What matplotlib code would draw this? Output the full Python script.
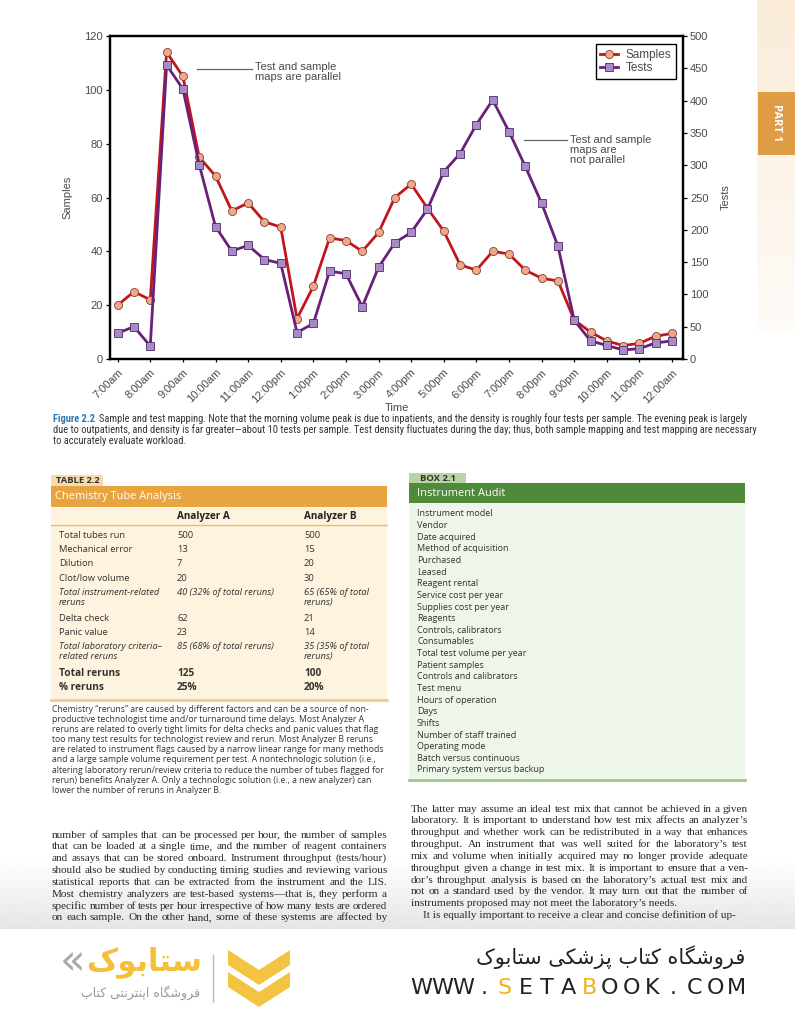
import matplotlib
matplotlib.use('Agg')
import matplotlib.pyplot as plt
from matplotlib import font_manager
from matplotlib.patches import Rectangle, Polygon
from matplotlib.lines import Line2D
import numpy as np

# ---- chart data: half-hour readings, 7:00am .. 12:00am ----
hour_labels = ['7:00am', '8:00am', '9:00am', '10:00am', '11:00am', '12:00pm',
               '1:00pm', '2:00pm', '3:00pm', '4:00pm', '5:00pm', '6:00pm',
               '7:00pm', '8:00pm', '9:00pm', '10:00pm', '11:00pm', '12:00am']
samples = [20, 25, 22, 114, 105, 75, 68, 55, 58, 51, 49, 15, 27, 45, 44, 40, 47, 60,
           65, 56, 47.5, 35, 33, 40, 39, 33, 30, 29, 14.5, 10, 6.7, 5, 5.8, 8.5, 9.5]
tests = [40, 50, 20, 455, 418, 301, 205, 167, 176, 154, 148, 41, 55, 136, 132, 81, 142, 180,
         196, 232, 290, 318, 363, 401, 352, 298, 241, 175, 60, 28, 21, 14, 16, 25, 28]

# ---- table 2.2 ----
table_cols = ['Analyzer A', 'Analyzer B']
table_rows = ['Total tubes run', 'Mechanical error', 'Dilution', 'Clot/low volume',
              'Total instrument-related\nreruns', 'Delta check', 'Panic value',
              'Total laboratory criteria\u2013\nrelated reruns', 'Total reruns', '% reruns']
analyzer_a = ['500', '13', '7', '20', '40 (32% of total reruns)', '62', '23',
              '85 (68% of total reruns)', '125', '25%']
analyzer_b = ['500', '15', '20', '30', '65 (65% of total\nreruns)', '21', '14',
              '35 (35% of total\nreruns)', '100', '20%']
row_kind = ['n', 'n', 'n', 'n', 'i', 'n', 'n', 'i', 'b', 'b']

table_note = [
    'Chemistry \u201creruns\u201d are caused by different factors and can be a source of non-',
    'productive technologist time and/or turnaround time delays. Most Analyzer A',
    'reruns are related to overly tight limits for delta checks and panic values that flag',
    'too many test results for technologist review and rerun. Most Analyzer B reruns',
    'are related to instrument flags caused by a narrow linear range for many methods',
    'and a large sample volume requirement per test. A nontechnologic solution (i.e.,',
    'altering laboratory rerun/review criteria to reduce the number of tubes flagged for',
    'rerun) benefits Analyzer A. Only a technologic solution (i.e., a new analyzer) can',
    'lower the number of reruns in Analyzer B.']

# ---- box 2.1 ----
audit_items = ['Instrument model', 'Vendor', 'Date acquired', 'Method of acquisition',
               'Purchased', 'Leased', 'Reagent rental', 'Service cost per year',
               'Supplies cost per year', 'Reagents', 'Controls, calibrators', 'Consumables',
               'Total test volume per year', 'Patient samples', 'Controls and calibrators',
               'Test menu', 'Hours of operation', 'Days', 'Shifts', 'Number of staff trained',
               'Operating mode', 'Batch versus continuous', 'Primary system versus backup']

caption = ['Sample and test mapping. Note that the morning volume peak is due to inpatients, and the density is roughly four tests per sample. The evening peak is largely',
           'due to outpatients, and density is far greater\u2014about 10 tests per sample. Test density fluctuates during the day; thus, both sample mapping and test mapping are necessary',
           'to accurately evaluate workload.']

body_left = [
    'number of samples that can be processed per hour, the number of samples',
    'that can be loaded at a single time, and the number of reagent containers',
    'and assays that can be stored onboard. Instrument throughput (tests/hour)',
    'should also be studied by conducting timing studies and reviewing various',
    'statistical reports that can be extracted from the instrument and the LIS.',
    'Most chemistry analyzers are test-based systems\u2014that is, they perform a',
    'specific number of tests per hour irrespective of how many tests are ordered',
    'on each sample. On the other hand, some of these systems are affected by']
body_right = [
    'The latter may assume an ideal test mix that cannot be achieved in a given',
    'laboratory. It is important to understand how test mix affects an analyzer\u2019s',
    'throughput and whether work can be redistributed in a way that enhances',
    'throughput. An instrument that was well suited for the laboratory\u2019s test',
    'mix and volume when initially acquired may no longer provide adequate',
    'throughput given a change in test mix. It is important to ensure that a ven-',
    'dor\u2019s throughput analysis is based on the laboratory\u2019s actual test mix and',
    'not on a standard used by the vendor. It may turn out that the number of',
    'instruments proposed may not meet the laboratory\u2019s needs.',
    'It is equally important to receive a clear and concise definition of up-']

shop_name = 'فروشگاه کتاب پزشکی ستابوک'
shop_tag = 'فروشگاه اینترنتی کتاب'
shop_logo = 'ستابوک'
site = 'WWW.SETABOOK.COM'

# ---------------------------------------------------------------
W, H = 795, 1010
fig = plt.figure(figsize=(W / 100, H / 100), dpi=100)
renderer = fig.canvas.get_renderer()

installed = {f.name for f in font_manager.fontManager.ttflist}


def pick(*names):
    for n in names:
        if n in installed:
            return n
    return 'DejaVu Sans'


narrow = pick('Liberation Sans Narrow', 'Roboto Condensed', 'Liberation Sans')
chart_font = pick('Liberation Sans', 'DejaVu Sans')
box_font = pick('Open Sans', 'Lato', 'DejaVu Sans')
serif = pick('Liberation Serif', 'DejaVu Serif')


def fx(px):
    return px / W


def fy(py):
    return 1 - py / H


def put(x, y, s, **kw):
    kw.setdefault('va', 'center')
    return fig.text(fx(x), fy(y), s, **kw)


def rect(x0, y0, x1, y1, color, z=1):
    fig.add_artist(Rectangle((fx(x0), fy(y1)), (x1 - x0) / W, (y1 - y0) / H,
                             transform=fig.transFigure, facecolor=color,
                             edgecolor='none', zorder=z))


def hline(x0, x1, y, color, lw, z=2):
    fig.add_artist(Line2D([fx(x0), fx(x1)], [fy(y), fy(y)], transform=fig.transFigure,
                          color=color, lw=lw, zorder=z))


def width_of(s, size, family, **kw):
    t = fig.text(0, 0, s, fontsize=size, family=family, **kw)
    w = t.get_window_extent(renderer).width
    t.remove()
    return w


def fit(s, target, family, **kw):
    return 10 * target / width_of(s, 10, family, **kw)


def gradient(x0, y0, x1, y1, rgb, a_top, a_bottom, z):
    g = fig.add_axes([fx(x0), fy(y1), (x1 - x0) / W, (y1 - y0) / H], zorder=z)
    img = np.zeros((80, 2, 4))
    img[..., :3] = rgb
    img[..., 3] = np.linspace(a_top, a_bottom, 80)[:, None]
    g.imshow(img, aspect='auto', extent=(0, 1, 0, 1), interpolation='bilinear')
    g.axis('off')


# ---------------- chart ----------------
x = np.arange(len(samples))
ax = fig.add_axes([fx(110), fy(359), (683 - 110) / W, (359 - 36) / H], zorder=2)
ax.plot(x, samples, color='#C3161C', lw=2.0, marker='o', ms=5.8, mfc='#EDA98A',
        mec='#8A3A2A', mew=0.6, label='Samples')
ax.set_xlim(-0.47, len(samples) - 1 + 0.67)
ax.set_ylim(0, 120)
ax.set_yticks(range(0, 121, 20))
ax.set_xticks(x[::2])
ax.set_xticklabels(hour_labels, rotation=45, ha='right', rotation_mode='anchor')

ax2 = ax.twinx()
ax2.plot(x, tests, color='#6A1F78', lw=2.0, marker='s', ms=5.6, mfc='#A88BC6',
         mec='#4F2868', mew=0.6, label='Tests')
ax2.set_ylim(0, 500)
ax2.set_yticks(range(0, 501, 50))

for a in (ax, ax2):
    for sp in a.spines.values():
        sp.set_linewidth(1.6)
        sp.set_color('black')
    a.tick_params(length=3, width=0.9, labelsize=8, labelcolor='#4a4a4a', pad=2)
    for lab in a.get_xticklabels() + a.get_yticklabels():
        lab.set_family(chart_font)
ax.tick_params(axis='x', length=2, pad=4)

ax.set_ylabel('Samples', fontsize=8, color='#4a4a4a', family=chart_font)
ax.yaxis.set_label_coords(-0.065, 0.5)
ax2.set_ylabel('Tests', fontsize=8, color='#4a4a4a', family=chart_font)
ax2.yaxis.set_label_coords(1.066, 0.5)
ax.set_xlabel('Time', fontsize=8, color='#4a4a4a', family=chart_font)
ax.xaxis.set_label_coords(0.5, -0.137)

h1, l1 = ax.get_legend_handles_labels()
h2, l2 = ax2.get_legend_handles_labels()
leg = ax2.legend(h1 + h2, l1 + l2, loc='upper right', bbox_to_anchor=(0.988, 0.975),
                 borderaxespad=0, fancybox=False, framealpha=1, edgecolor='black',
                 prop={'family': chart_font, 'size': 8.5}, handlelength=1.45,
                 handletextpad=0.7, borderpad=0.4, labelspacing=0.12)
leg.get_frame().set_linewidth(1.0)
for t in leg.get_texts():
    t.set_color('#4a4a4a')

hline(197, 252, 69, '#666666', 0.9, z=5)
put(255, 72, 'Test and sample\nmaps are parallel', fontsize=8, color='#4a4a4a',
    family=chart_font, linespacing=1.05)
hline(524, 567, 139.5, '#666666', 0.9, z=5)
put(570, 150, 'Test and sample\nmaps are\nnot parallel', fontsize=8, color='#4a4a4a',
    family=chart_font, linespacing=1.05)

# ---------------- caption ----------------
cap_size = fit(caption[1], 697, narrow)
put(53, 419, 'Figure 2.2', fontsize=cap_size, color='#2A78B4', family=narrow, weight='bold')
lab_w = width_of('Figure 2.2', cap_size, narrow, weight='bold')
for i, line in enumerate(caption):
    put(53 + (lab_w + 4 if i == 0 else 0), 419 + i * 11, line, fontsize=cap_size,
        color='#333333', family=narrow)

# ---------------- table 2.2 ----------------
rect(51, 475, 103, 486, '#F7DBAA')
rect(51, 486, 387, 507, '#E8A43E')
rect(51, 507, 387, 700, '#FEF3DE')
hline(51, 387, 525, '#E9BC74', 1.0)
hline(51, 387, 700, '#F2CC92', 2.0)
put(56, 480.5, 'TABLE 2.2', fontsize=fit('TABLE 2.2', 44, box_font, weight='bold'),
    family=box_font, weight='bold', color='#333333')
put(55, 496, 'Chemistry Tube Analysis', family=box_font, color='white',
    fontsize=fit('Chemistry Tube Analysis', 125, box_font))
hdr_size = fit(table_cols[0], 53, box_font, weight='bold')
for cx, col in zip((177, 304), table_cols):
    put(cx, 517, col, fontsize=hdr_size, family=box_font, weight='bold', color='#222222')
cell_size = fit('Mechanical error', 74, box_font)
style_of = {'n': dict(), 'i': dict(style='italic'), 'b': dict(weight='bold')}
yrow = 537
for name, va, vb, kind in zip(table_rows, analyzer_a, analyzer_b, row_kind):
    kw = dict(fontsize=cell_size, family=box_font, color='#333333', va='top',
              linespacing=1.22, **style_of[kind])
    if kind == 'b':
        kw['fontsize'] = cell_size * 1.08
    for cx, s in ((59, name), (177, va), (304, vb)):
        put(cx, yrow - 6, s, **kw)
    nl = max(s.count('\n') for s in (name, va, vb))
    yrow += 14.2 + 11.5 * nl

note_size = fit(table_note[6], 331, box_font)
for i, line in enumerate(table_note):
    put(52, 709 + i * 10.2, line, fontsize=note_size, family=box_font, color='#333333')

# ---------------- box 2.1 ----------------
rect(409, 473, 466, 483, '#B9D5A4')
rect(409, 483, 745, 503, '#4F8A3A')
rect(409, 503, 745, 780, '#EEF5E9')
hline(409, 745, 780, '#A3C690', 2.0)
put(420, 478.5, 'BOX 2.1', fontsize=fit('BOX 2.1', 36, box_font, weight='bold'),
    family=box_font, weight='bold', color='#333333')
put(417, 493.5, 'Instrument Audit', family=box_font, color='white',
    fontsize=fit('Instrument Audit', 88, box_font))
item_size = fit(audit_items[-1], 128, box_font)
step = (770 - 514) / (len(audit_items) - 1)
for i, item in enumerate(audit_items):
    put(417, 514 + i * step, item, fontsize=item_size, family=box_font, color='#333333')

# ---------------- body text (justified) ----------------
body_size = fit(body_right[1], 337, serif)
LINE = 11.85


def justify(lines, x0, y0, width, free=()):
    kw = dict(fontsize=body_size, family=serif, color='#2a2a2a', va='baseline')
    for i, line in enumerate(lines):
        y = y0 + i * LINE + 3.5
        if i in free:
            put(x0 + 12, y, line, **kw)
            continue
        if line.endswith('needs.'):
            put(x0, y, line, **kw)
            continue
        words = line.split()
        ws = [width_of(w, body_size, serif) for w in words]
        gap = (width - sum(ws)) / (len(words) - 1)
        xx = x0
        for w, ww in zip(words, ws):
            put(xx, y, w, **kw)
            xx += ww + gap


justify(body_left, 52, 834, 335)
justify(body_right, 411, 808, 337, free=(9,))

# page shadow toward the bottom, then white footer
gradient(0, 862, 795, 929, (0.80, 0.80, 0.80), 0.0, 0.5, z=0.5)
fig.add_artist(Rectangle((0, 0), 1, fy(929), transform=fig.transFigure,
                         facecolor='white', edgecolor='none', zorder=11))

# ---------------- right page strip ----------------
gradient(757, 0, 795, 330, (0.98, 0.90, 0.80), 0.75, 0.15, z=0.4)
rect(758, 92, 795, 155, '#DE9D45', z=2)
put(777, 123, 'PART 1', fontsize=8, family=box_font, weight='bold', color='white',
    rotation=270, ha='center')

# ---------------- footer (watermark) ----------------
FORMS = {
    'ا': (0xFE8D, 0xFE8E, None, None), 'ب': (0xFE8F, 0xFE90, 0xFE91, 0xFE92),
    'پ': (0xFB56, 0xFB57, 0xFB58, 0xFB59), 'ت': (0xFE95, 0xFE96, 0xFE97, 0xFE98),
    'ر': (0xFEAD, 0xFEAE, None, None), 'ز': (0xFEAF, 0xFEB0, None, None),
    'س': (0xFEB1, 0xFEB2, 0xFEB3, 0xFEB4), 'ش': (0xFEB5, 0xFEB6, 0xFEB7, 0xFEB8),
    'ف': (0xFED1, 0xFED2, 0xFED3, 0xFED4), 'ک': (0xFB8E, 0xFB8F, 0xFB90, 0xFB91),
    'گ': (0xFB92, 0xFB93, 0xFB94, 0xFB95), 'ن': (0xFEE5, 0xFEE6, 0xFEE7, 0xFEE8),
    'و': (0xFEED, 0xFEEE, None, None), 'ه': (0xFEE9, 0xFEEA, 0xFEEB, 0xFEEC),
    'ی': (0xFBFC, 0xFBFD, 0xFBFE, 0xFBFF)}


def shape(word):
    out = []
    for i, ch in enumerate(word):
        iso, fin, ini, med = FORMS[ch]
        prev_j = i > 0 and FORMS[word[i - 1]][2] is not None
        next_j = i < len(word) - 1 and ini is not None
        out.append(chr(med if prev_j and next_j else fin if prev_j else ini if next_j else iso))
    return ''.join(reversed(out))


def farsi(text):
    return ' '.join(shape(w) for w in reversed(text.split()))


put(745, 957, farsi(shop_name), fontsize=15, family='DejaVu Sans', color='#222222',
    ha='right', zorder=12)
for i, ch in enumerate(site):
    put(421 + i * 21.0, 988, ch, fontsize=16, family='DejaVu Sans', ha='center',
        color='#F2B21B' if i in (4, 8) else '#222222', zorder=12)

put(60, 962, '\u00ab', fontsize=30, family='DejaVu Sans', color='#A9A9A9', zorder=12)
put(202, 962, farsi(shop_logo), fontsize=22, family='DejaVu Sans', weight='bold',
    color='#F4C03A', ha='right', zorder=12)
put(200, 993, farsi(shop_tag), fontsize=9, family='DejaVu Sans', color='#9A9A9A',
    ha='right', zorder=12)
fig.add_artist(Line2D([fx(213), fx(213)], [fy(955), fy(1002)], transform=fig.transFigure,
                      color='#BBBBBB', lw=1, zorder=12))
for top in (950, 972):
    pts = [(228, top), (259, top + 20), (290, top), (290, top + 15), (259, top + 35),
           (228, top + 15)]
    fig.add_artist(Polygon([(fx(a), fy(b)) for a, b in pts], closed=True,
                           transform=fig.transFigure, facecolor='#F5C342',
                           edgecolor='none', zorder=12))

fig.savefig('out.png', dpi=100)
